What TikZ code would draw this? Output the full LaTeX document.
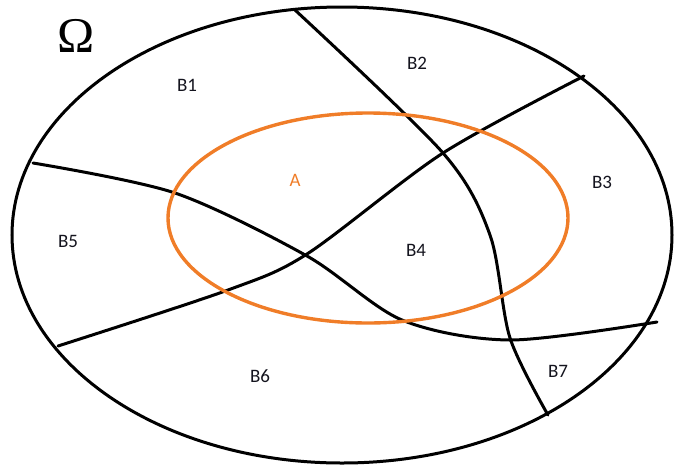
\documentclass[tikz,border=0pt]{standalone}
\usepackage{fontspec}
\setmainfont{Liberation Serif}
\newfontfamily\lblfont{Carlito}
\definecolor{setorange}{RGB}{240,125,40}
\definecolor{lbl}{RGB}{20,20,30}
\begin{document}
\begin{tikzpicture}[x=1pt,y=-1pt,
  bound/.style={line width=3pt,black},
  part/.style={line width=3pt,black,line cap=round},
  setA/.style={line width=3.4pt,setorange},
  lab/.style={font=\lblfont\fontsize{19}{19}\selectfont,text=lbl,inner sep=0pt},
  laba/.style={font=\lblfont\fontsize{19}{19}\selectfont,text=setorange,inner sep=0pt}]
\useasboundingbox (0,0) rectangle (675,467);
\node[draw=none,inner sep=0pt,minimum size=0pt] (omegactr) at (342,235) {};
\node[draw=none,inner sep=0pt,minimum size=0pt] (actr) at (368,218) {};
\draw[bound] (omegactr) ellipse [x radius=330, y radius=228];
\draw[part] plot[smooth] coordinates {(295,10) (443,153) (490,235) (510,338) (548,415)};
\draw[part] plot[smooth] coordinates {(584,76) (443,153) (307,254) (228,290) (58,346)};
\draw[part] plot[smooth] coordinates {(33,163) (175,193) (307,256) (402,320) (510,340) (657,322)};
\draw[setA] (actr) ellipse [x radius=200, y radius=105];
\node[font=\fontsize{50}{50}\selectfont,inner sep=0pt] (omega) at (76,36) {Ω};
\node[lab] (b1) at (187,85) {B1};
\node[lab] (b2) at (417,63) {B2};
\node[lab] (b3) at (602,182) {B3};
\node[laba] (a) at (295,180) {A};
\node[lab] (b4) at (416,250) {B4};
\node[lab] (b5) at (68,241) {B5};
\node[lab] (b6) at (260,376) {B6};
\node[lab] (b7) at (558,371) {B7};
\end{tikzpicture}
\end{document}
